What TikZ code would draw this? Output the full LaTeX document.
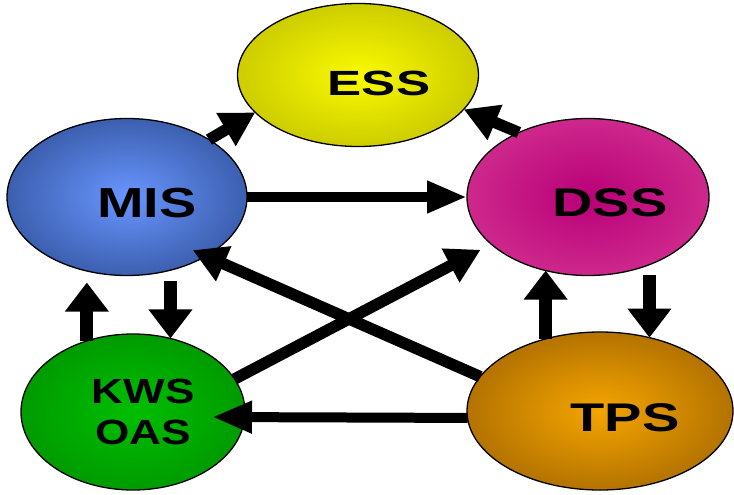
\documentclass[tikz,border=0pt]{standalone}
\usepackage{fontspec}
\setmainfont{Liberation Sans}
\usetikzlibrary{arrows.meta,calc,shapes.geometric}
\newcommand{\lbl}[2]{\scalebox{#1}[1]{#2}}
\begin{document}
\begin{tikzpicture}[x=1pt,y=-1pt,
  sys/.style={ellipse, draw=black, line width=1.3pt, inner sep=0pt, outer sep=0pt},
  lab/.style={font=\bfseries\fontsize{#1}{41}\selectfont, align=center, inner sep=0pt, text=black},
  arrd/.style={line width=11.5pt, -{Triangle[length=34pt,width=36pt]}},
  arrh/.style={line width=10pt, -{Triangle[length=40pt,width=30pt]}},
  arrv/.style={line width=13pt, -{Triangle[length=29pt,width=42pt]}},
]
\useasboundingbox (0,0) rectangle (734,495);

\node[sys, minimum width=241pt, minimum height=143pt,
  inner color={rgb,255:red,250;green,250;blue,0}, outer color={rgb,255:red,205;green,205;blue,0},
  label={[lab=35, xshift=21pt, yshift=-8pt]center:\lbl{1.46}{ESS}}] (ess) at (358,75) {};
\node[sys, minimum width=240pt, minimum height=157pt,
  inner color={rgb,255:red,105;green,150;blue,255}, outer color={rgb,255:red,60;green,95;blue,175},
  label={[lab=42, xshift=20pt, yshift=-6pt]center:\lbl{1.33}{MIS}}] (mis) at (127,197) {};
\node[sys, minimum width=242pt, minimum height=157pt,
  inner color={rgb,255:red,185;green,0;blue,120}, outer color={rgb,255:red,205;green,40;blue,140},
  label={[lab=40, xshift=22pt, yshift=-6pt]center:\lbl{1.4}{DSS}}] (dss) at (588,197) {};
\node[sys, minimum width=224pt, minimum height=156pt,
  inner color={rgb,255:red,0;green,190;blue,0}, outer color={rgb,255:red,0;green,155;blue,0},
  label={[lab=35, xshift=10pt, yshift=0pt]center:{\lbl{1.26}{KWS}\\\lbl{1.26}{OAS}}}] (kws) at (133,412) {};
\node[sys, minimum width=266pt, minimum height=158pt,
  inner color={rgb,255:red,245;green,165;blue,0}, outer color={rgb,255:red,180;green,115;blue,0},
  label={[lab=40, xshift=25pt, yshift=-7pt]center:\lbl{1.4}{TPS}}] (tps) at (600,411) {};

\draw[arrd] (mis.35) -- (ess.200);
\draw[arrd] (dss.137) -- (ess.-18);
\draw[arrh] (mis.east) -- (dss.west);
\draw[arrv, shorten >=7pt] (kws.123) -- (kws.123 |- mis.south);
\draw[arrv, shorten <=5pt] (kws.63 |- mis.south) -- (kws.63);
\draw[arrd] (tps.164) -- ($(mis.center)!0.87!(mis.-39)$);
\draw[arrd, shorten >=12pt] (kws.18) -- (dss.206);
\draw[arrh] (tps.183) -- ($(kws.center)+(79,5)$);
\draw[arrv] (tps.127) -- (tps.127 |- dss.240);
\draw[arrv, shorten <=11pt] (tps.56 |- dss.-47) -- (tps.56);
\end{tikzpicture}
\end{document}
